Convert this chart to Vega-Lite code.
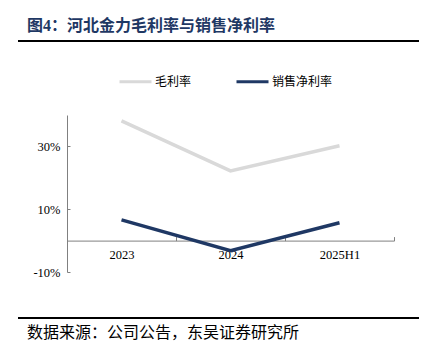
{
  "$schema": "https://vega.github.io/schema/vega-lite/v6.json",
  "background": "white",
  "width": 327,
  "height": 157,
  "autosize": "none",
  "padding": {"left": 67, "top": 115, "right": 40, "bottom": 84},
  "config": {"view": {"stroke": null}},
  "resolve": {"scale": {"x": "independent"}},
  "layer": [
    {
      "data": {"values": [
        {"period": "2023", "metric": "毛利率", "value": 0.381},
        {"period": "2024", "metric": "毛利率", "value": 0.222},
        {"period": "2025H1", "metric": "毛利率", "value": 0.302},
        {"period": "2023", "metric": "销售净利率", "value": 0.066},
        {"period": "2024", "metric": "销售净利率", "value": -0.032},
        {"period": "2025H1", "metric": "销售净利率", "value": 0.057}
      ]},
      "mark": {"type": "line", "strokeWidth": 3.5},
      "encoding": {
        "x": {
          "field": "period",
          "type": "ordinal",
          "sort": ["2023", "2024", "2025H1"],
          "scale": {"type": "band", "paddingInner": 0, "paddingOuter": 0},
          "axis": {
            "title": null,
            "labelAngle": 0,
            "offset": -31.4,
            "tickBand": "extent",
            "tickSize": -4,
            "tickColor": "#808080",
            "domainColor": "#808080",
            "labelFont": "Liberation Serif",
            "labelFontSize": 12.5,
            "labelColor": "#000000",
            "labelPadding": 12
          }
        },
        "y": {
          "field": "value",
          "type": "quantitative",
          "scale": {"domain": [-0.1, 0.4], "nice": false, "zero": false},
          "axis": {
            "title": null,
            "values": [-0.1, -0.05, 0, 0.05, 0.1, 0.15, 0.2, 0.25, 0.3, 0.35, 0.4],
            "labelExpr": "round(datum.value*100) + '%'",
            "grid": false,
            "tickSize": -3,
            "tickColor": "#808080",
            "domainColor": "#808080",
            "labelFont": "Liberation Serif",
            "labelFontSize": 12.5,
            "labelColor": "#000000",
            "labelPadding": 10
          }
        },
        "color": {
          "field": "metric",
          "type": "nominal",
          "scale": {"domain": ["毛利率", "销售净利率"], "range": ["#d9d9d9", "#1f3864"]},
          "legend": {
            "title": null,
            "orient": "none",
            "legendX": 51,
            "legendY": -51,
            "direction": "horizontal",
            "columns": 2,
            "columnPadding": 38,
            "symbolType": "stroke",
            "symbolSize": 1024,
            "symbolStrokeWidth": 3,
            "labelFont": "Noto Sans CJK SC",
            "labelFontSize": 12,
            "labelColor": "#000000",
            "labelOffset": 2
          }
        }
      }
    },
    {
      "data": {"values": [{"part": "header rule"}]},
      "mark": {"type": "rule", "color": "#000000", "strokeWidth": 2, "clip": false},
      "encoding": {
        "x": {"datum": -0.14985, "type": "quantitative", "scale": {"domain": [0, 1], "nice": false, "zero": false}, "axis": null},
        "x2": {"datum": 1.07645},
        "y": {"datum": 0.6357, "type": "quantitative", "title": null, "scale": {"domain": [-0.1, 0.4], "nice": false, "zero": false}}
      }
    },
    {
      "data": {"values": [{"part": "footer rule"}]},
      "mark": {"type": "rule", "color": "#000000", "strokeWidth": 2, "clip": false},
      "encoding": {
        "x": {"datum": -0.14985, "type": "quantitative", "scale": {"domain": [0, 1], "nice": false, "zero": false}, "axis": null},
        "x2": {"datum": 1.07645},
        "y": {"datum": -0.2465, "type": "quantitative", "title": null, "scale": {"domain": [-0.1, 0.4], "nice": false, "zero": false}}
      }
    },
    {
      "data": {"values": [{"t": "图4：河北金力毛利率与销售净利率"}]},
      "mark": {
        "type": "text",
        "align": "left",
        "baseline": "middle",
        "font": "Liberation Serif, Noto Sans CJK SC",
        "fontSize": 16,
        "fontWeight": "bold",
        "color": "#1f3864",
        "clip": false
      },
      "encoding": {
        "x": {"datum": -0.12232, "type": "quantitative", "scale": {"domain": [0, 1], "nice": false, "zero": false}, "axis": null},
        "y": {"datum": 0.6834, "type": "quantitative", "title": null, "scale": {"domain": [-0.1, 0.4], "nice": false, "zero": false}},
        "text": {"field": "t", "type": "nominal"}
      }
    },
    {
      "data": {"values": [{"t": "数据来源：公司公告，东吴证券研究所"}]},
      "mark": {
        "type": "text",
        "align": "left",
        "baseline": "middle",
        "font": "Noto Sans CJK SC",
        "fontSize": 16,
        "fontWeight": "normal",
        "color": "#000000",
        "clip": false
      },
      "encoding": {
        "x": {"datum": -0.12232, "type": "quantitative", "scale": {"domain": [0, 1], "nice": false, "zero": false}, "axis": null},
        "y": {"datum": -0.2943, "type": "quantitative", "title": null, "scale": {"domain": [-0.1, 0.4], "nice": false, "zero": false}},
        "text": {"field": "t", "type": "nominal"}
      }
    }
  ]
}
